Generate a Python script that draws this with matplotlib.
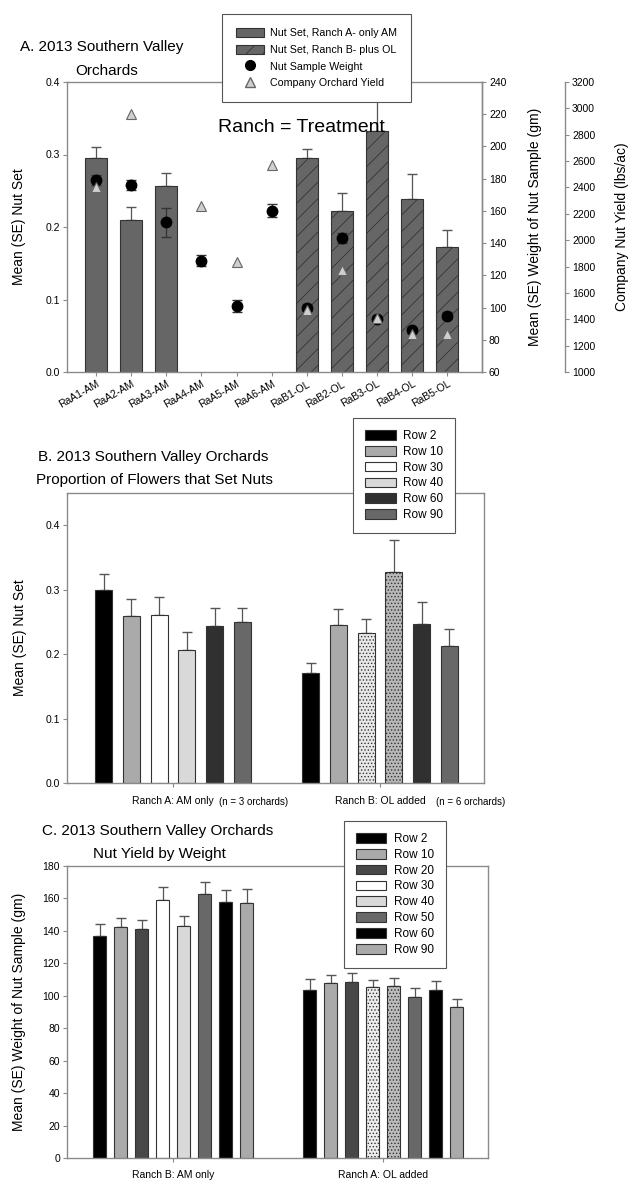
import numpy as np
import matplotlib
matplotlib.use('Agg')
import matplotlib.pyplot as plt
from matplotlib.patches import Patch
from matplotlib.lines import Line2D

plt.rcParams['font.family'] = ['Liberation Sans', 'DejaVu Sans']
plt.rcParams['hatch.linewidth'] = 0.6

# ---- panel A: orchard level data
orchards = ['RaA1-AM', 'RaA2-AM', 'RaA3-AM', 'RaA4-AM', 'RaA5-AM', 'RaA6-AM',
            'RaB1-OL', 'RaB2-OL', 'RaB3-OL', 'RaB4-OL', 'RaB5-OL']
nut_set = [0.295, 0.210, 0.257, np.nan, np.nan, np.nan, 0.295, 0.222, 0.333, 0.238, 0.172]
nut_set_se = [0.015, 0.018, 0.018, np.nan, np.nan, np.nan, 0.012, 0.025, 0.060, 0.035, 0.024]
sample_wt = [179, 176, 153, 129, 101, 160, 100, 143, 93, 86, 95]
sample_wt_se = [3, 3, 9, 3.5, 4, 4, 2, 3, 2, 2, 2]
orchard_yield = [2400, 2960, np.nan, 2260, 1835, 2570, 1470, 1775, 1410, 1285, 1285]

# ---- panel B: nut set by row
groups_b = ['Ranch A: AM only', 'Ranch B: OL added']
n_notes_b = ['(n = 3 orchards)', '(n = 6 orchards)']
rows_b = ['Row 2', 'Row 10', 'Row 30', 'Row 40', 'Row 60', 'Row 90']
set_ranch_a = [0.299, 0.259, 0.260, 0.207, 0.244, 0.250]
set_ranch_a_se = [0.025, 0.026, 0.029, 0.028, 0.027, 0.022]
set_ranch_b = [0.171, 0.245, 0.233, 0.328, 0.246, 0.213]
set_ranch_b_se = [0.015, 0.025, 0.022, 0.049, 0.035, 0.026]

# ---- panel C: nut weight by row
groups_c = ['Ranch B: AM only', 'Ranch A: OL added']
rows_c = ['Row 2', 'Row 10', 'Row 20', 'Row 30', 'Row 40', 'Row 50', 'Row 60', 'Row 90']
wt_am = [137, 142.4, 141, 159, 143, 163, 158, 157]
wt_am_se = [7, 5.6, 6, 8, 6, 7, 7, 9]
wt_ol = [103.5, 107.6, 108.8, 105.7, 106, 99, 103.7, 92.8]
wt_ol_se = [7, 5.5, 5, 4, 4.7, 5.5, 5.3, 5.2]

W, H = 630, 1182
fig = plt.figure(figsize=(W / 100, H / 100), dpi=100)

spine_col = '#8a8a8a'
edge_col = '#333333'
err_col = '#555555'
title_fs = 11
ylab_fs = 10


def px_axes(left, top, right, bottom):
    return fig.add_axes([left / W, 1 - bottom / H, (right - left) / W, (bottom - top) / H])


def style(ax):
    for s in ax.spines.values():
        s.set_color(spine_col)
        s.set_linewidth(1.0)
    ax.tick_params(direction='out', length=3, width=0.8, color=spine_col, labelsize=7.5, pad=2)


def box_legend(handles, labels, left, top, fs, spacing, pad=1.0):
    leg = fig.legend(handles, labels, loc='upper left', bbox_to_anchor=(left / W, 1 - top / H),
                     borderaxespad=0, fontsize=fs, fancybox=False, edgecolor='#555555', framealpha=1,
                     borderpad=pad, labelspacing=spacing, handlelength=2.6, handleheight=0.9,
                     handletextpad=0.6)
    leg.get_frame().set_linewidth(0.8)
    return leg


# ================= panel A
ax = px_axes(67, 82, 482, 372)
x = np.arange(len(orchards))
ns = np.array(nut_set)
nse = np.array(nut_set_se)
hatchA = [''] * 6 + ['//'] * 5
for i in range(len(orchards)):
    if np.isnan(ns[i]):
        continue
    ax.bar(x[i], ns[i], 0.62, color='#666666', edgecolor=edge_col, linewidth=0.8, hatch=hatchA[i], zorder=2)
    ax.errorbar(x[i], ns[i], yerr=[[0], [nse[i]]], fmt='none', ecolor=err_col, elinewidth=0.9, capsize=3.5, zorder=1)
ax.set_xlim(-0.83, 10.99)
ax.set_ylim(0, 0.4)
ax.set_yticks([0, 0.1, 0.2, 0.3, 0.4])
ax.set_yticklabels(['0.0', '0.1', '0.2', '0.3', '0.4'])
ax.set_xticks(x)
ax.set_xticklabels(orchards, rotation=30, ha='right', rotation_mode='anchor', fontsize=7)
ax.set_ylabel('Mean (SE) Nut Set', fontsize=ylab_fs)
ax.yaxis.set_label_coords(-0.099, 0.5)
style(ax)

ax2 = ax.twinx()
ax2.errorbar(x, sample_wt, yerr=sample_wt_se, fmt='o', color='black', markersize=7.5,
             ecolor='#333333', elinewidth=0.9, capsize=3.5)
ax2.set_ylim(60, 240)
ax2.set_yticks(np.arange(60, 241, 20))
ax2.set_ylabel('Mean (SE) Weight of Nut Sample (gm)', fontsize=ylab_fs)
ax2.yaxis.set_label_coords(1.11, 0.5)
style(ax2)

ax3 = ax.twinx()
ax3.spines['right'].set_position(('axes', 1.2))
ax3.plot(x, orchard_yield, '^', markersize=7, markerfacecolor='#cfcfcf', markeredgecolor='#666666',
         markeredgewidth=0.8, linestyle='none')
ax3.set_ylim(1000, 3200)
ax3.set_yticks(np.arange(1000, 3201, 200))
ax3.set_ylabel('Company Nut Yield (lbs/ac)', fontsize=ylab_fs)
ax3.yaxis.set_label_coords(1.32, 0.5)
style(ax3)
for a in (ax2, ax3):
    for s in ('left', 'top', 'bottom'):
        a.spines[s].set_visible(False)

fig.text(20 / W, 1 - 47 / H, 'A. 2013 Southern Valley', fontsize=title_fs, va='center')
fig.text(75 / W, 1 - 71 / H, 'Orchards', fontsize=title_fs, va='center')
fig.text(301 / W, 1 - 128 / H, 'Ranch = Treatment', fontsize=14, ha='center', va='center', zorder=10)

hA = [Patch(facecolor='#666666', edgecolor=edge_col, linewidth=0.8),
      Patch(facecolor='#666666', edgecolor=edge_col, linewidth=0.8, hatch='//'),
      Line2D([], [], marker='o', color='black', linestyle='none', markersize=7),
      Line2D([], [], marker='^', markerfacecolor='#cfcfcf', markeredgecolor='#666666',
             linestyle='none', markersize=7)]
lA = ['Nut Set, Ranch A- only AM', 'Nut Set, Ranch B- plus OL', 'Nut Sample Weight', 'Company Orchard Yield']
box_legend(hA, lA, 222, 14, 7.7, 0.62, pad=1.3)

# ================= panel B
colors_b_a = ['#000000', '#aaaaaa', '#ffffff', '#d9d9d9', '#303030', '#686868']
colors_b_b = ['#000000', '#aaaaaa', '#e8e8e8', '#b8b8b8', '#303030', '#686868']
hatch_b_b = ['', '', '.....', '.....', '', '']

axb = px_axes(67, 493, 484, 783)
sp = 0.134
wd = 0.082
for i in range(len(rows_b)):
    off = (i - 2.5) * sp
    axb.bar(0 + off, set_ranch_a[i], wd, color=colors_b_a[i], edgecolor=edge_col, linewidth=0.8, zorder=2)
    axb.errorbar(0 + off, set_ranch_a[i], yerr=[[0], [set_ranch_a_se[i]]], fmt='none', ecolor=err_col,
                 elinewidth=0.9, capsize=3.5, zorder=1)
    axb.bar(1 + off, set_ranch_b[i], wd, color=colors_b_b[i], edgecolor=edge_col, linewidth=0.8,
            hatch=hatch_b_b[i], zorder=2)
    axb.errorbar(1 + off, set_ranch_b[i], yerr=[[0], [set_ranch_b_se[i]]], fmt='none', ecolor=err_col,
                 elinewidth=0.9, capsize=3.5, zorder=1)
axb.set_xlim(-0.512, 1.502)
axb.set_ylim(0, 0.45)
axb.set_yticks([0, 0.1, 0.2, 0.3, 0.4])
axb.set_yticklabels(['0.0', '0.1', '0.2', '0.3', '0.4'])
axb.set_xticks([0, 1])
axb.set_xticklabels(groups_b, fontsize=7)
axb.set_ylabel('Mean (SE) Nut Set', fontsize=ylab_fs)
axb.yaxis.set_label_coords(-0.096, 0.5)
style(axb)
axb.tick_params(axis='x', pad=6)
for gx, note in zip([0.222, 1.268], n_notes_b):
    axb.text(gx, -0.066, note, fontsize=7, transform=axb.get_xaxis_transform(), va='center')

fig.text(38 / W, 1 - 457 / H, 'B. 2013 Southern Valley Orchards', fontsize=title_fs, va='center')
fig.text(36 / W, 1 - 480 / H, 'Proportion of Flowers that Set Nuts', fontsize=title_fs, va='center')

hB = [Patch(facecolor=c, edgecolor=edge_col, linewidth=0.8) for c in colors_b_a]
box_legend(hB, rows_b, 353, 418, 8.5, 0.33)

# ================= panel C
colors_c_a = ['#000000', '#aaaaaa', '#484848', '#ffffff', '#d9d9d9', '#686868', '#000000', '#aaaaaa']
colors_c_b = ['#000000', '#aaaaaa', '#484848', '#ececec', '#bcbcbc', '#686868', '#000000', '#aaaaaa']
hatch_c_b = ['', '', '', '.....', '.....', '', '', '']

axc = px_axes(67, 866, 488, 1158)
sp = 0.1
wd = 0.062
for i in range(len(rows_c)):
    off = (i - 3.5) * sp
    axc.bar(0 + off, wt_am[i], wd, color=colors_c_a[i], edgecolor=edge_col, linewidth=0.8, zorder=2)
    axc.errorbar(0 + off, wt_am[i], yerr=[[0], [wt_am_se[i]]], fmt='none', ecolor=err_col,
                 elinewidth=0.9, capsize=3.5, zorder=1)
    axc.bar(1 + off, wt_ol[i], wd, color=colors_c_b[i], edgecolor=edge_col, linewidth=0.8,
            hatch=hatch_c_b[i], zorder=2)
    axc.errorbar(1 + off, wt_ol[i], yerr=[[0], [wt_ol_se[i]]], fmt='none', ecolor=err_col,
                 elinewidth=0.9, capsize=3.5, zorder=1)
axc.set_xlim(-0.505, 1.5)
axc.set_ylim(0, 180)
axc.set_yticks(np.arange(0, 181, 20))
axc.set_xticks([0, 1])
axc.set_xticklabels(groups_c, fontsize=7)
axc.set_ylabel('Mean (SE) Weight of Nut Sample (gm)', fontsize=ylab_fs)
axc.yaxis.set_label_coords(-0.097, 0.5)
style(axc)
axc.tick_params(axis='x', pad=6)

fig.text(42 / W, 1 - 831 / H, 'C. 2013 Southern Valley Orchards', fontsize=title_fs, va='center')
fig.text(93 / W, 1 - 854 / H, 'Nut Yield by Weight', fontsize=title_fs, va='center')

hC = [Patch(facecolor=c, edgecolor=edge_col, linewidth=0.8) for c in colors_c_a]
box_legend(hC, rows_c, 344, 821, 8.5, 0.33)

fig.savefig('out.png', dpi=100)
